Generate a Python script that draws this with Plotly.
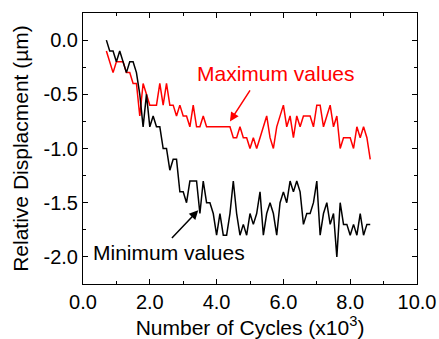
import plotly.graph_objects as go

cycles = [round(0.7 + 0.1 * i, 1) for i in range(80)]

max_values = [
    -0.1, -0.2, -0.3, -0.2, -0.2, -0.2, -0.3, -0.3, -0.4, -0.4,
    -0.7, -0.4, -0.5, -0.6, -0.6, -0.6, -0.4, -0.6, -0.4, -0.6,
    -0.6, -0.7, -0.6, -0.7, -0.7, -0.8, -0.6, -0.8, -0.8, -0.7,
    -0.8, -0.8, -0.8, -0.8, -0.8, -0.8, -0.8, -0.8, -0.9, -0.9,
    -0.8, -0.9, -0.9, -1.0, -0.9, -1.0, -0.9, -0.8, -0.7, -0.9,
    -1.0, -0.8, -0.7, -0.6, -0.8, -0.7, -0.9, -0.7, -0.8, -0.7,
    -0.7, -0.7, -0.8, -0.6, -0.6, -0.8, -0.7, -0.6, -0.8, -0.7,
    -1.0, -0.9, -0.9, -0.9, -1.0, -0.8, -0.9, -0.8, -0.9, -1.1,
]

min_values = [
    0.0, -0.1, -0.1, -0.2, -0.1, -0.2, -0.3, -0.2, -0.2, -0.3,
    -0.5, -0.8, -0.5, -0.8, -0.7, -0.8, -0.8, -1.0, -1.0, -1.2,
    -1.1, -1.1, -1.4, -1.4, -1.5, -1.3, -1.3, -1.3, -1.6, -1.3,
    -1.5, -1.5, -1.6, -1.8, -1.6, -1.8, -1.8, -1.6, -1.3, -1.6,
    -1.8, -1.7, -1.8, -1.6, -1.7, -1.6, -1.4, -1.8, -1.6, -1.5,
    -1.6, -1.8, -1.5, -1.4, -1.5, -1.3, -1.4, -1.3, -1.4, -1.7,
    -1.6, -1.6, -1.5, -1.3, -1.8, -1.6, -1.5, -1.7, -1.6, -2.0,
    -1.5, -1.7, -1.7, -1.8, -1.7, -1.8, -1.6, -1.8, -1.7, -1.7,
]

x_tickvals = [0, 2, 4, 6, 8, 10]
x_ticktext = ["0.0", "2.0", "4.0", "6.0", "8.0", "10.0"]
y_tickvals = [0.0, -0.5, -1.0, -1.5, -2.0]
y_ticktext = ["0.0", "-0.5", "-1.0", "-1.5", "-2.0"]

FONT = "Liberation Sans, Arial, sans-serif"

fig = go.Figure()
fig.add_trace(go.Scatter(x=cycles, y=max_values, mode="lines",
                         line=dict(color="#ff0000", width=1.5), name="Maximum values"))
fig.add_trace(go.Scatter(x=cycles, y=min_values, mode="lines",
                         line=dict(color="#000000", width=1.5), name="Minimum values"))

fig.add_annotation(x=4.4, y=-0.75, ax=5.03, ay=-0.45, axref="x", ayref="y",
                   text="", showarrow=True, arrowhead=2, arrowsize=1.2,
                   arrowwidth=1.5, arrowcolor="#ff0000")
fig.add_annotation(x=5.78, y=-0.31, text="Maximum values", showarrow=False,
                   font=dict(family=FONT, size=21, color="#ff0000"))
fig.add_annotation(x=3.45, y=-1.57, ax=2.62, ay=-1.84, axref="x", ayref="y",
                   text="", showarrow=True, arrowhead=2, arrowsize=1.2,
                   arrowwidth=1.5, arrowcolor="#000000")
fig.add_annotation(x=2.58, y=-1.96, text="Minimum values", showarrow=False,
                   font=dict(family=FONT, size=21, color="#000000"))

axis_common = dict(showline=True, linecolor="black", linewidth=1, mirror="allticks",
                   ticks="inside", ticklen=5, tickwidth=1, tickcolor="black",
                   showgrid=False, zeroline=False, automargin=False,
                   tickfont=dict(family=FONT, size=20, color="black"))

fig.update_xaxes(range=[0, 10], tickvals=x_tickvals, ticktext=x_ticktext,
                 minor=dict(ticks="inside", ticklen=3, dtick=1, tick0=0, tickcolor="black"),
                 title=dict(text="Number of Cycles (x10<sup>3</sup>)",
                            font=dict(family=FONT, size=21, color="black"), standoff=4),
                 **axis_common)
fig.update_yaxes(range=[-2.25, 0.25], tickvals=y_tickvals, ticktext=y_ticktext,
                 minor=dict(ticks="inside", ticklen=3, dtick=0.25, tick0=0, tickcolor="black"),
                 title=dict(text="Relative Displacment (µm)",
                            font=dict(family=FONT, size=21, color="black"), standoff=9),
                 **axis_common)

fig.update_layout(width=439, height=339, margin=dict(l=83, r=22, t=13, b=55),
                  paper_bgcolor="white", plot_bgcolor="white", showlegend=False)

fig.write_html("out.html", config={"displayModeBar": False},
               post_script="document.body.style.margin='0';document.body.style.padding='0';")
